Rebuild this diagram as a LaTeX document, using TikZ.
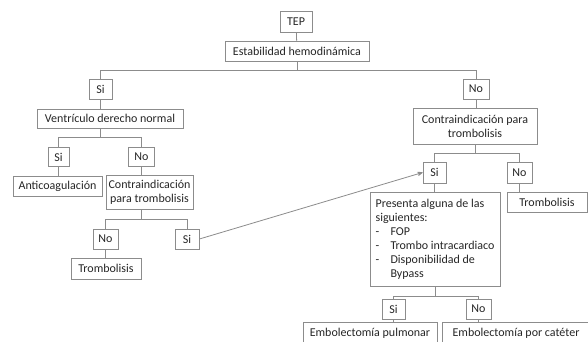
\documentclass[tikz,border=0pt]{standalone}
\usepackage{fontspec}
\setmainfont{Carlito}
\usetikzlibrary{calc,arrows}

\begin{document}
\begin{tikzpicture}[x=1pt,y=-1pt,
  box/.style={draw=black!45,line width=0.8pt,text=black!85,
    font=\fontsize{12}{14}\selectfont,inner sep=1pt,
    minimum height=20pt,align=center},
  link/.style={draw=black!45,line width=0.8pt}]
\useasboundingbox[fill=white] (0,0) rectangle (588,342);
% top
\node[box,minimum width=32pt,minimum height=21pt] (tep) at (296,21.5) {TEP};
\node[box,minimum width=144pt] (est) at (297,51) {Estabilidad hemodinámica};
\node[box,minimum width=23pt] (si1) at (100.5,89) {Si};
\node[box,minimum width=26pt] (no1) at (476,89) {No};
% left branch
\node[box,minimum width=146pt,minimum height=19pt] (vd) at (110,118.5) {Ventrículo derecho normal};
\node[box,minimum width=21pt,minimum height=19pt] (si2) at (58.5,157) {Si};
\node[box,minimum width=26pt,minimum height=19pt] (no2) at (141.5,157) {No};
\node[box,minimum width=89pt] (anti) at (57.5,186) {Anticoagulación};
\node[box,minimum width=87pt,minimum height=34pt] (ctL) at (149.5,192) {Contraindicación\\para trombolisis};
\node[box,minimum width=25pt] (no3) at (105.5,239) {No};
\node[box,minimum width=24pt] (si3) at (187,239) {Si};
\node[box,minimum width=70pt,minimum height=21pt] (tromL) at (106,268.5) {Trombolisis};
% right branch
\node[box,minimum width=124pt,minimum height=36pt] (ctR) at (475,126) {Contraindicación para\\trombolisis};
\node[box,minimum width=23pt,minimum height=21pt] (siR) at (434.5,172.5) {Si};
\node[box,minimum width=25pt,minimum height=21pt] (noR) at (519.5,172.5) {No};
\node[box,minimum width=80pt] (tromR) at (547,202) {Trombolisis};
\node[box,minimum width=130pt,minimum height=94pt,align=left,inner sep=4pt] (pres) at (435,239)
  {Presenta alguna de las\\siguientes:\\\makebox[15pt][l]{-}FOP\\\makebox[15pt][l]{-}Trombo intracardiaco\\
   \makebox[15pt][l]{-}Disponibilidad de\\\hspace*{15pt}Bypass};
\node[box,minimum width=23pt] (siB) at (393.5,309) {Si};
\node[box,minimum width=25pt] (noB) at (478.5,309) {No};
\node[box,minimum width=134pt,minimum height=22pt] (embP) at (370,333) {Embolectomía pulmonar};
\node[box,minimum width=148pt,minimum height=22pt] (embC) at (516,333) {Embolectomía por catéter};

% connectors
\draw[link] (tep) -- (est);
\draw[link] (est.south) -- ++(0,9) -| (si1.north);
\draw[link] (est.south) -- ++(0,9) -| (no1.north);
\draw[link] (si1.south) -- (si1.south |- vd.north);
\draw[link] (vd.south -| si1.south) -- ++(0,9) -| (si2.north);
\draw[link] (vd.south -| si1.south) -- ++(0,9) -| (no2.north);
\draw[link] (si2.south) -- (si2.south |- anti.north);
\draw[link] (no2.south) -- (no2.south |- ctL.north);
\draw[link] (ctL.south -| no2.south) -- ++(0,10) -| (no3.north);
\draw[link] (ctL.south -| no2.south) -- ++(0,10) -| (si3.north);
\draw[link] (no3.south) -- (no3.south |- tromL.north);
\draw[link] (no1.south) -- (no1.south |- ctR.north);
\draw[link] (ctR.south) -- ++(0,9) -| (siR.north);
\draw[link] (ctR.south) -- ++(0,9) -| (noR.north);
\draw[link] (noR.south) -- (noR.south |- tromR.north);
\draw[link] (siR.south) -- (siR.south |- pres.north);
\draw[link] (pres.south) -- ++(0,10) -| (siB.north);
\draw[link] (pres.south) -- ++(0,10) -| (noB.north);
\draw[link] (siB.south) -- (siB.south |- embP.north);
\draw[link] (noB.south) -- (noB.south |- embC.north);
\draw[link,->,>=stealth'] (si3.east) -- (siR.west);
\end{tikzpicture}
\end{document}
